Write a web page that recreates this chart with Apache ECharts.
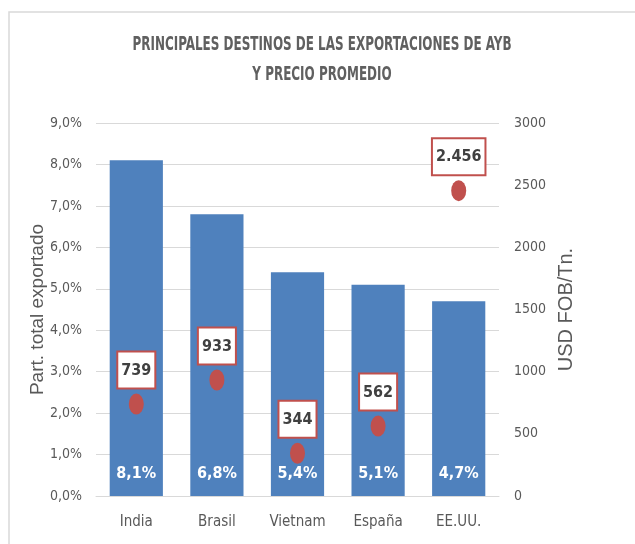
<!DOCTYPE html>
<html>
<head>
<meta charset="utf-8">
<script src="https://cdn.jsdelivr.net/npm/echarts@6/dist/echarts.min.js"></script>
<style>
  html, body { margin: 0; padding: 0; background: #fff; }
  #chart { width: 635px; height: 544px; }
</style>
</head>
<body>
<div id="chart"></div>
<script>
// datos
const paises = ['India', 'Brasil', 'Vietnam', 'España', 'EE.UU.']
const participacion = [8.1, 6.8, 5.4, 5.1, 4.7]   // % del total exportado
const precio = [739, 933, 344, 562, 2456]          // USD FOB/Tn.

const narrow = '"Liberation Sans Narrow", "DejaVu Sans Condensed", sans-serif'
const gris = '#595959'

const chart = echarts.init(document.getElementById('chart'))

const option = {
  animation: false,
  graphic: [
    {
      type: 'rect',
      shape: { x: 9, y: 12, width: 700, height: 600 },
      style: { fill: 'none', stroke: '#d9d9d9', lineWidth: 1.5 },
      silent: true
    },
    // titulo (comprimido horizontalmente como en el original)
    {
      type: 'text',
      x: 322,
      y: 45,
      scaleX: 0.7,
      style: {
        text: 'PRINCIPALES DESTINOS DE LAS EXPORTACIONES DE AYB',
        align: 'center',
        verticalAlign: 'middle',
        fill: '#606060',
        font: 'bold 19px "DejaVu Sans Condensed", sans-serif'
      }
    },
    {
      type: 'text',
      x: 322,
      y: 75,
      scaleX: 0.7,
      style: {
        text: 'Y PRECIO PROMEDIO',
        align: 'center',
        verticalAlign: 'middle',
        fill: '#606060',
        font: 'bold 19px "DejaVu Sans Condensed", sans-serif'
      }
    }
  ],
  grid: { left: 96, right: 136, top: 123, bottom: 48 },
  xAxis: {
    type: 'category',
    data: paises,
    axisLine: { lineStyle: { color: '#d9d9d9' } },
    axisTick: { show: false },
    axisLabel: { color: gris, fontFamily: narrow, fontSize: 15, margin: 19 }
  },
  yAxis: [
    {
      type: 'value',
      min: 0,
      max: 9,
      interval: 1,
      name: 'Part. total exportado',
      nameLocation: 'middle',
      nameGap: 49,
      nameMoveOverlap: false,
      nameTextStyle: { color: gris, fontSize: 19, fontFamily: 'Liberation Sans, sans-serif' },
      axisLine: { show: false },
      axisTick: { show: false },
      splitLine: { lineStyle: { color: '#d9d9d9' } },
      axisLabel: {
        color: gris,
        fontFamily: narrow,
        fontSize: 14,
        margin: 14,
        formatter: v => v.toFixed(1).replace('.', ',') + '%'
      }
    },
    {
      type: 'value',
      min: 0,
      max: 3000,
      interval: 500,
      name: 'USD FOB/Tn.',
      nameLocation: 'middle',
      nameGap: 42,
      nameTextStyle: { color: gris, fontSize: 20, fontFamily: 'Liberation Sans, sans-serif' },
      axisLine: { show: false },
      axisTick: { show: false },
      splitLine: { show: false },
      axisLabel: { color: gris, fontFamily: narrow, fontSize: 14, margin: 15, formatter: v => String(v) }
    }
  ],
  series: [
    {
      type: 'bar',
      data: participacion,
      barWidth: '66%',
      itemStyle: { color: '#4f81bd' },
      label: {
        show: true,
        position: 'insideBottom',
        distance: 14,
        color: '#fff',
        fontFamily: narrow,
        fontSize: 16,
        fontWeight: 'bold',
        formatter: p => p.value.toFixed(1).replace('.', ',') + '%'
      }
    },
    {
      type: 'scatter',
      yAxisIndex: 1,
      data: precio,
      symbol: 'circle',
      symbolSize: [15, 21],
      itemStyle: { color: '#c0504d', opacity: 1 },
      label: {
        show: true,
        position: 'top',
        distance: 6,
        backgroundColor: '#fff',
        borderColor: '#c0504d',
        borderWidth: 2,
        padding: [10, 3, 9, 3],
        color: '#404040',
        fontFamily: narrow,
        fontSize: 16,
        fontWeight: 'bold',
        formatter: p => p.value >= 1000
          ? Math.floor(p.value / 1000) + '.' + String(p.value % 1000).padStart(3, '0')
          : String(p.value)
      }
    }
  ]
}

chart.setOption(option)
window.onresize = function () {
  chart.resize()
}
</script>
</body>
</html>
